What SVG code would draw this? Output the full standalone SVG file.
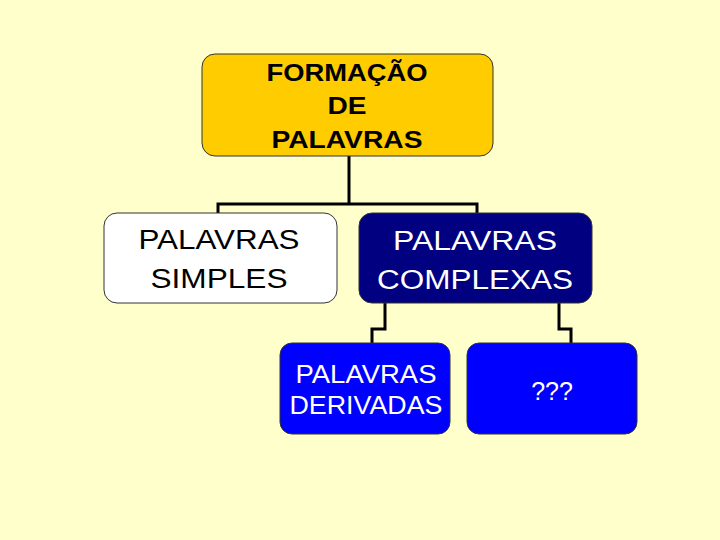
<svg xmlns="http://www.w3.org/2000/svg" width="720" height="540" viewBox="0 0 720 540">
<style>
.box{stroke:#333;stroke-width:1}
.t{font-family:"Liberation Sans",Arial,sans-serif;text-anchor:middle}
.conn{fill:none;stroke:#000;stroke-width:3}
</style>
<rect width="720" height="540" fill="#ffffcc"/>
<g id="connectors">
<path class="conn" d="M349 156 V204 M218 213 V204 H477 V213"/>
<path class="conn" d="M385 303 V329 H372 V343"/>
<path class="conn" d="M559 303 V329 H571 V343"/>
</g>
<g id="n1">
<rect class="box" x="202" y="54" width="291" height="102" rx="13" fill="#ffcc00"/>
<text class="t" font-size="23" font-weight="bold" fill="#000" x="347" y="81" textLength="161" lengthAdjust="spacingAndGlyphs">FORMAÇÃO</text>
<text class="t" font-size="23" font-weight="bold" fill="#000" x="347" y="114" textLength="39" lengthAdjust="spacingAndGlyphs">DE</text>
<text class="t" font-size="23" font-weight="bold" fill="#000" x="347" y="148" textLength="151" lengthAdjust="spacingAndGlyphs">PALAVRAS</text>
</g>
<g id="n2">
<rect class="box" x="104" y="213" width="233" height="90" rx="13" fill="#ffffff"/>
<text class="t" font-size="27" fill="#000" x="219" y="249" textLength="161" lengthAdjust="spacingAndGlyphs">PALAVRAS</text>
<text class="t" font-size="27" fill="#000" x="219" y="288" textLength="137" lengthAdjust="spacingAndGlyphs">SIMPLES</text>
</g>
<g id="n3">
<rect class="box" x="359" y="213" width="233" height="90" rx="13" fill="#000080"/>
<text class="t" font-size="27" fill="#fff" x="475" y="250" textLength="164" lengthAdjust="spacingAndGlyphs">PALAVRAS</text>
<text class="t" font-size="27" fill="#fff" x="475" y="289" textLength="196" lengthAdjust="spacingAndGlyphs">COMPLEXAS</text>
</g>
<g id="n4">
<rect class="box" x="280" y="343" width="170" height="91" rx="12" fill="#0000ff"/>
<text class="t" font-size="25" fill="#fff" x="366" y="383" textLength="141" lengthAdjust="spacingAndGlyphs">PALAVRAS</text>
<text class="t" font-size="25" fill="#fff" x="366" y="414" textLength="153" lengthAdjust="spacingAndGlyphs">DERIVADAS</text>
</g>
<g id="n5">
<rect class="box" x="467" y="343" width="170" height="91" rx="12" fill="#0000ff"/>
<text class="t" font-size="25" fill="#fff" x="552" y="400">???</text>
</g>
</svg>
